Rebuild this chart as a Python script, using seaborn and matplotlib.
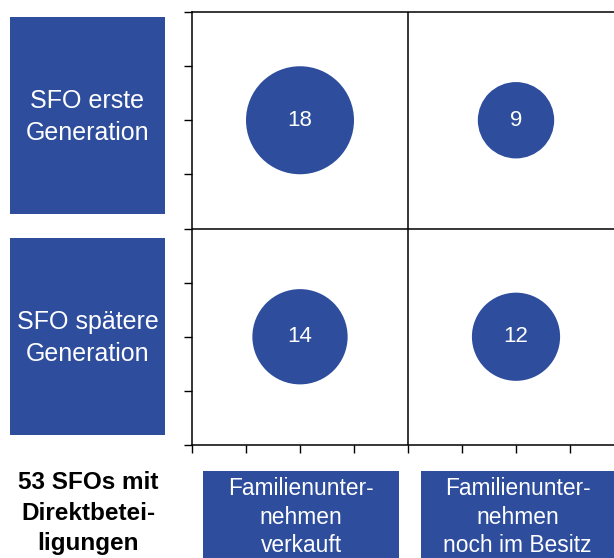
import matplotlib
matplotlib.use("Agg")
import matplotlib.pyplot as plt
import seaborn as sns
import pandas as pd
from matplotlib.patches import Rectangle

# Daten
x_pos = [1, 3, 1, 3]
y_pos = [3, 3, 1, 1]
anzahl = [18, 9, 14, 12]
zeilen_labels = ["SFO erste\nGeneration", "SFO spätere\nGeneration"]
spalten_labels = ["Familienunter-\nnehmen\nverkauft", "Familienunter-\nnehmen\nnoch im Besitz"]
titel = "53 SFOs mit\nDirektbetei-\nligungen"

blau = "#2E4D9D"

sns.set_theme(style="white")
plt.rcParams['font.family'] = ['Liberation Sans', 'DejaVu Sans']

W, H = 614, 558
fig = plt.figure(figsize=(W / 100, H / 100), dpi=100)

def fx(px):
    return px / W

def fy(py):
    return 1 - py / H

# Achse: 192..624 px horizontal, 12..445 px vertikal
ax = fig.add_axes([fx(192), fy(445), 432 / W, 433 / H])

df = pd.DataFrame({'x': x_pos, 'y': y_pos, 'n': anzahl})
sns.scatterplot(data=df, x='x', y='y', size='n', sizes=(9 * 336, 18 * 336),
                size_norm=(9, 18), color=blau, edgecolor='none', legend=False,
                ax=ax, zorder=3)

for _, r in df.iterrows():
    ax.text(r['x'], r['y'], str(int(r['n'])), color='white', fontsize=16,
            ha='center', va='center', zorder=4)

ax.set_xlim(0, 4)
ax.set_ylim(0, 4)
ax.set_xticks([i * 0.5 for i in range(9)])
ax.set_yticks([i * 0.5 for i in range(9)])
ax.set_xticklabels([])
ax.set_yticklabels([])
ax.set_xlabel('')
ax.set_ylabel('')
ax.tick_params(axis='both', direction='out', length=6, width=1, colors='black',
               bottom=True, left=True)
for s in ['left', 'bottom', 'top']:
    ax.spines[s].set_color('black')
    ax.spines[s].set_linewidth(1.1)
ax.spines['right'].set_visible(False)
ax.axvline(2, color='black', lw=1.1, zorder=2)
ax.axhline(2, color='black', lw=1.1, zorder=2)

# Zeilenboxen links
for (top, bottom), lab in zip([(17, 214), (238, 435)], zeilen_labels):
    fig.add_artist(Rectangle((fx(10), fy(bottom)), fx(165) - fx(10), fy(top) - fy(bottom),
                             transform=fig.transFigure, color=blau, lw=0))
    fig.text(fx(87.5), fy((top + bottom) / 2 + 1.5), lab, color='white', fontsize=18,
             ha='center', va='center', linespacing=1.37)

# Spaltenboxen unten
for (left, right), lab in zip([(203, 399), (421, 614)], spalten_labels):
    fig.add_artist(Rectangle((fx(left), fy(560)), fx(right) - fx(left), fy(471) - fy(560),
                             transform=fig.transFigure, color=blau, lw=0))
    fig.text(fx((left + right) / 2), fy(517), lab, color='white', fontsize=16.4,
             ha='center', va='center', linespacing=1.29)

fig.text(fx(88), fy(513), titel, color='black', fontsize=17.5, fontweight='bold',
         ha='center', va='center', linespacing=1.44)

fig.savefig('out.png', dpi=100)
